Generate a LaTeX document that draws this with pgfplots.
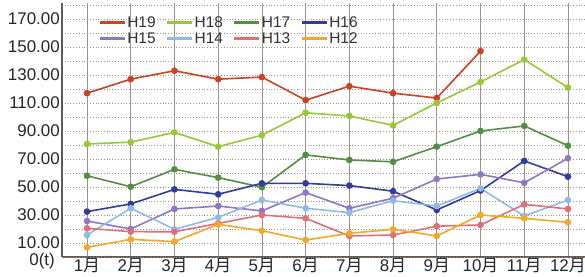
\documentclass[border=0pt]{standalone}
\usepackage{fontspec}
\setmainfont{Liberation Sans}
\newfontfamily\jp{Noto Sans CJK JP}
\usepackage{pgfplots}
\pgfplotsset{compat=1.18}
\definecolor{cH19}{RGB}{205,65,35}
\definecolor{cH18}{RGB}{150,200,55}
\definecolor{cH17}{RGB}{85,140,70}
\definecolor{cH16}{RGB}{50,60,155}
\definecolor{cH15}{RGB}{140,120,195}
\definecolor{cH14}{RGB}{145,185,230}
\definecolor{cH13}{RGB}{228,110,120}
\definecolor{cH12}{RGB}{242,168,40}
\definecolor{axiscol}{RGB}{100,90,82}
\definecolor{gridcol}{RGB}{160,145,135}
\pgfplotstableread{
m H19 H18 H17 H16 H15 H14 H13 H12
1 117 80.7 58 32.4 25.7 15.7 20.5 6.9
2 127 82 50.2 37.9 20 34.8 18.1 12.6
3 133 89 62.6 48.3 34.3 19.8 18 11
4 127 78.8 56.7 44.8 36.4 28.3 24 23.3
5 128.5 87 49.8 52.6 32.9 40.7 30 18.8
6 112 103 72.9 52.6 46 34.8 27.6 12.1
7 122 100.7 69.3 51 34.8 31.7 15 16.9
8 117 94 68 47 42 40.2 15.7 19.8
9 113.5 110 78.8 33.6 55.7 36.4 22 15
10 147 125 90 47.4 59 49 22.9 30
11 nan 141 93.6 68.6 53 29.3 37.6 27.6
12 nan 121 79.5 57.4 70.5 40.7 34.3 24.8
}\datatable
\begin{document}
\begin{tikzpicture}
\begin{axis}[
  scale only axis, width=523bp, height=254bp,
  xmin=0.428, xmax=12.39, ymin=0, ymax=181.4,
  axis x line*=bottom, axis y line*=left,
  axis line style={draw=axiscol, line width=1.3bp, -},
  xtick={1,...,12},
  xticklabels={1{\jp 月},2{\jp 月},3{\jp 月},4{\jp 月},5{\jp 月},6{\jp 月},7{\jp 月},8{\jp 月},9{\jp 月},10{\jp 月},11{\jp 月},12{\jp 月}},
  ytick={10,20,...,180},
  yticklabels={10.00,,30.00,,50.00,,70.00,,90.00,,110.00,,130.00,,150.00,,170.00,},
  extra y ticks={0},
  extra y tick labels={0(t)},
  extra y tick style={yticklabel style={yshift=-4.5bp, xshift=-5bp}},
  major tick length=0pt,
  xmajorgrids, ymajorgrids,
  x grid style={draw=gridcol, line width=0.6bp},
  y grid style={draw=gridcol, line width=0.8bp, dotted},
  yticklabel style={font=\fontsize{17}{17}\selectfont, inner sep=2bp, text=black!85},
  xticklabel style={font=\fontsize{17}{17}\selectfont, inner sep=0bp, yshift=-1bp, text=black!85},
  legend columns=4,
  legend style={at={(rel axis cs:0.069,0.952)}, anchor=north west, draw=none, fill=none,
    font=\fontsize{15.5}{16}\selectfont, text=black!80, inner sep=0bp,
    nodes={inner sep=1bp},
    /tikz/every even column/.append style={column sep=9bp},
    row sep=2bp},
  legend image code/.code={\draw[#1, line width=3bp] (0bp,0bp) -- (25bp,0bp);},
  every axis plot/.append style={line width=1.6bp, mark=*, mark size=2.5bp},
  unbounded coords=jump,
]
\addplot[cH19, mark options={fill=cH19}] table[x=m,y=H19]{\datatable};
\addlegendentry{H19}
\addplot[cH18, mark options={fill=cH18}] table[x=m,y=H18]{\datatable};
\addlegendentry{H18}
\addplot[cH17, mark options={fill=cH17}] table[x=m,y=H17]{\datatable};
\addlegendentry{H17}
\addplot[cH16, mark options={fill=cH16}] table[x=m,y=H16]{\datatable};
\addlegendentry{H16}
\addplot[cH15, mark options={fill=cH15}] table[x=m,y=H15]{\datatable};
\addlegendentry{H15}
\addplot[cH14, mark options={fill=cH14}] table[x=m,y=H14]{\datatable};
\addlegendentry{H14}
\addplot[cH13, mark options={fill=cH13}] table[x=m,y=H13]{\datatable};
\addlegendentry{H13}
\addplot[cH12, mark options={fill=cH12}] table[x=m,y=H12]{\datatable};
\addlegendentry{H12}
\coordinate (sw) at (rel axis cs:0,0);
\coordinate (ne) at (rel axis cs:1,1);
\end{axis}
\pgfresetboundingbox
\path ([shift={(-62bp,-20bp)}]sw) rectangle ([shift={(0bp,3bp)}]ne);
\end{tikzpicture}
\end{document}
